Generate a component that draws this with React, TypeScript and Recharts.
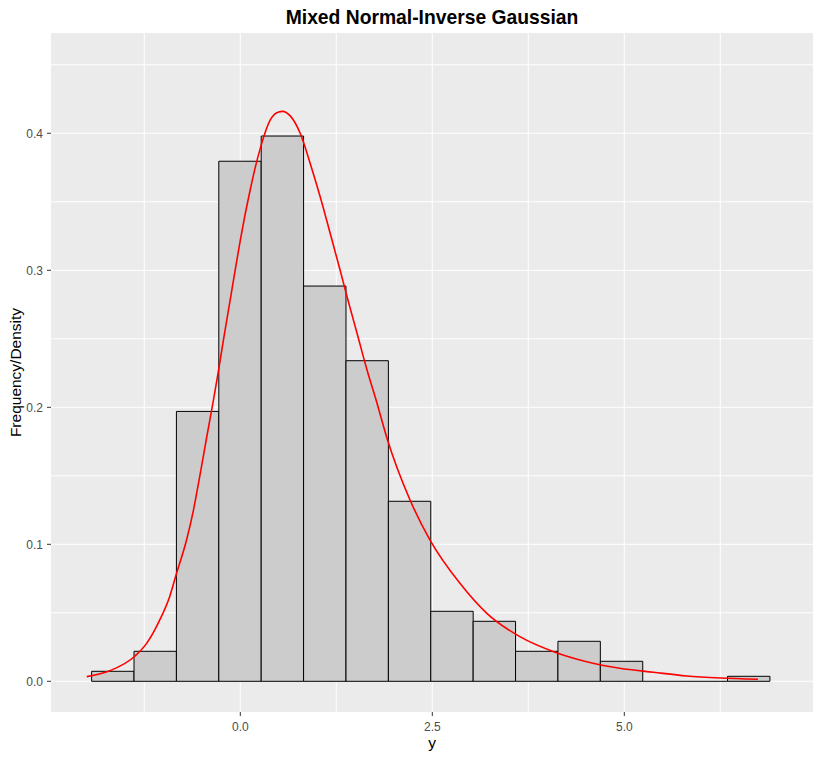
import React from 'react';
import {
  ComposedChart,
  Line,
  XAxis,
  YAxis,
  CartesianGrid,
  ReferenceArea,
  ReferenceLine,
} from 'recharts';

// histogram bins (left edge, right edge) and density height
const binStart = [-1.936, -1.384, -0.832, -0.28, 0.272, 0.824, 1.376, 1.928, 2.48, 3.032, 3.584, 4.136, 4.688, 5.24, 5.792, 6.344];
const binEnd = [-1.384, -0.832, -0.28, 0.272, 0.824, 1.376, 1.928, 2.48, 3.032, 3.584, 4.136, 4.688, 5.24, 5.792, 6.344, 6.896];
const binDensity = [0.0073, 0.0219, 0.197, 0.3796, 0.398, 0.2885, 0.234, 0.1314, 0.0511, 0.0438, 0.0219, 0.0292, 0.0146, 0, 0, 0.00365];

// fitted density curve
const curveX = [-2.0, -1.7, -1.37, -1.22, -1.05, -0.92, -0.83, -0.7, -0.61, -0.53, -0.44, -0.35, -0.29, -0.22, -0.13, -0.07, 0.0, 0.06, 0.13, 0.19, 0.26, 0.32, 0.39, 0.5, 0.55, 0.65, 0.78, 0.91, 1.04, 1.17, 1.3, 1.39, 1.52, 1.65, 1.78, 1.91, 2.21, 2.47, 2.86, 3.21, 3.64, 4.08, 4.51, 4.94, 5.38, 5.81, 6.25, 6.74];
const curveY = [0.0034, 0.0077, 0.0185, 0.0277, 0.0447, 0.0618, 0.0788, 0.1031, 0.125, 0.149, 0.1774, 0.2053, 0.2248, 0.249, 0.279, 0.299, 0.322, 0.34, 0.359, 0.374, 0.389, 0.4, 0.4097, 0.4156, 0.416, 0.4127, 0.40, 0.378, 0.3537, 0.327, 0.30, 0.2807, 0.254, 0.2272, 0.203, 0.1774, 0.1323, 0.1031, 0.0715, 0.0496, 0.0326, 0.0216, 0.0143, 0.0095, 0.0066, 0.0039, 0.0024, 0.0015];

const xTicks = [0, 2.5, 5];
const yTicks = [0, 0.1, 0.2, 0.3, 0.4];
const xGrid = [-1.25, 0, 1.25, 2.5, 3.75, 5, 6.25];
const yGrid = [0, 0.05, 0.1, 0.15, 0.2, 0.25, 0.3, 0.35, 0.4, 0.45];

const curve = curveX.map((x, i) => ({ x, y: curveY[i] }));

const font = '"Liberation Sans", Arial, sans-serif';

export default function App() {
  return (
    <div style={{ position: 'absolute', left: 0, top: 0, width: 821, height: 760, background: '#fff', fontFamily: font }}>
      <ComposedChart width={821} height={760} margin={{ top: 33, right: 8, left: 0, bottom: 0 }}>
        <CartesianGrid
          fill="#EBEBEB"
          stroke="#FFFFFF"
          strokeWidth={1}
          verticalValues={xGrid}
          horizontalValues={yGrid}
        />
        <XAxis
          type="number"
          dataKey="x"
          domain={[-2.465, 7.457]}
          allowDataOverflow
          ticks={xTicks}
          tickFormatter={(v: number) => v.toFixed(1)}
          axisLine={false}
          tickLine={{ stroke: '#333333' }}
          tickSize={4}
          tickMargin={6}
          height={48}
          tick={{ fill: '#4D4D4D', fontSize: 12 }}
        />
        <YAxis
          type="number"
          domain={[-0.0224, 0.4732]}
          allowDataOverflow
          ticks={yTicks}
          tickFormatter={(v: number) => v.toFixed(1)}
          axisLine={false}
          tickLine={{ stroke: '#333333' }}
          tickSize={4}
          tickMargin={4}
          width={51}
          tick={{ fill: '#4D4D4D', fontSize: 12 }}
        />
        {binStart.map((x1, i) =>
          binDensity[i] > 0 ? (
            <ReferenceArea
              key={'b' + i}
              x1={x1}
              x2={binEnd[i]}
              y1={0}
              y2={binDensity[i]}
              fill="#CCCCCC"
              fillOpacity={1}
              stroke="#000000"
              strokeWidth={1}
            />
          ) : (
            <ReferenceLine
              key={'b' + i}
              segment={[{ x: x1, y: 0 }, { x: binEnd[i], y: 0 }]}
              stroke="#000000"
              strokeWidth={1}
            />
          )
        )}
        <Line
          data={curve}
          dataKey="y"
          type="monotone"
          stroke="#FF0000"
          strokeWidth={1.6}
          dot={false}
          activeDot={false}
          isAnimationActive={false}
        />
      </ComposedChart>
      <svg width={821} height={760} style={{ position: 'absolute', left: 0, top: 0, pointerEvents: 'none' }}>
        <text x={432} y={23.5} textAnchor="middle" fontSize={19.3} fontWeight="bold" fill="#000" fontFamily={font}>
          Mixed Normal-Inverse Gaussian
        </text>
        <text x={20.5} y={372.5} textAnchor="middle" fontSize={15.5} fill="#000" fontFamily={font} transform="rotate(-90, 20.5, 372.5)">
          Frequency/Density
        </text>
        <text x={432} y={748} textAnchor="middle" fontSize={15.5} fill="#000" fontFamily={font}>
          y
        </text>
      </svg>
    </div>
  );
}
